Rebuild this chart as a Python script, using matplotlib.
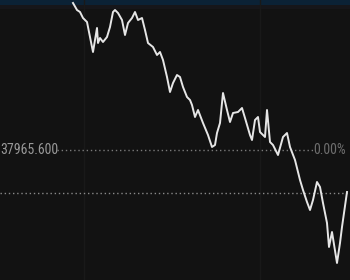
import numpy as np
import matplotlib.pyplot as plt
from matplotlib import font_manager

# intraday index price
minutes = [73, 77, 80, 83, 87, 90, 93, 97, 98, 100, 103, 107, 110, 113, 115, 118,
           122, 125, 128, 132, 135, 138, 142, 145, 148, 153, 157, 160, 163, 167,
           170, 173, 177, 180, 183, 187, 190, 192, 195, 198, 203, 208, 212, 215,
           217, 220, 223, 227, 230, 233, 238, 242, 245, 250, 252, 255, 258, 260,
           265, 267, 270, 273, 278, 283, 287, 290, 295, 300, 303, 307, 310, 313,
           317, 320, 323, 327, 329, 332, 337, 340, 342, 347]
price = [38259.6, 38245.6, 38241.6, 38229.6, 38221.6, 38191.6, 38161.6, 38209.6,
         38179.6, 38189.6, 38181.6, 38191.6, 38211.6, 38241.6, 38245.6, 38239.6,
         38225.6, 38195.6, 38219.6, 38229.6, 38241.6, 38225.6, 38229.6, 38205.6,
         38179.6, 38171.6, 38155.6, 38161.6, 38145.6, 38111.6, 38081.6, 38099.6,
         38115.6, 38111.6, 38091.6, 38071.6, 38065.6, 38055.6, 38031.6, 38045.6,
         38019.6, 37995.6, 37971.6, 37975.6, 37999.6, 38019.6, 38079.6, 38045.6,
         38021.6, 38039.6, 38041.6, 38049.6, 38029.6, 37995.6, 37985.6, 38025.6,
         38031.6, 38001.6, 37991.6, 38045.6, 37981.6, 37975.6, 37955.6, 37991.6,
         37999.6, 37971.6, 37945.6, 37905.6, 37885.6, 37861.6, 37845.6, 37865.6,
         37901.6, 37891.6, 37859.6, 37819.6, 37771.6, 37801.6, 37739.6, 37779.6,
         37811.6, 37881.6]
prev_close = 37965.6
lower_level = 37879.6
ref_label = "37965.600"
pct_label = "0.00%"

bg = '#121212'
narrow = [f for f in ['Liberation Sans Narrow', 'Roboto Condensed', 'Roboto']
          if any(f == e.name for e in font_manager.fontManager.ttflist)]

fig = plt.figure(figsize=(3.5, 2.8), dpi=100, facecolor=bg)
ax = fig.add_axes([0, 0, 1, 1], facecolor=bg)
ax.set_xlim(0, 350)
ax.set_ylim(prev_close - 260, prev_close + 300)

# top band
ax.axhspan(prev_close + 290, prev_close + 300, color='#0b2236', lw=0, zorder=0)
ax.axhspan(prev_close + 282, prev_close + 290, color='#16161a', lw=0, zorder=0)

for xv in [84, 260]:
    ax.axvline(xv, color='#191919', lw=1, zorder=1)

ax.plot([57, 314], [prev_close, prev_close], color='#7a7a7a', lw=1,
        linestyle=(0, (1, 2)), zorder=2)
ax.axhline(lower_level, color='#8a8a8a', lw=1, linestyle=(0, (1, 2)), zorder=2)

ax.plot(minutes, price, color='#e6e6e6', lw=1.4, zorder=3)

fam = narrow + ['DejaVu Sans']
ax.text(0, prev_close, ref_label, color='#999999', fontsize=10, family=fam,
        ha='left', va='center')
ax.text(346, prev_close, pct_label, color='#6e6e6e', fontsize=10, family=fam,
        ha='right', va='center')

ax.set_xticks([])
ax.set_yticks([])
for s in ax.spines.values():
    s.set_visible(False)

fig.savefig('out.png', dpi=100, facecolor=bg)
